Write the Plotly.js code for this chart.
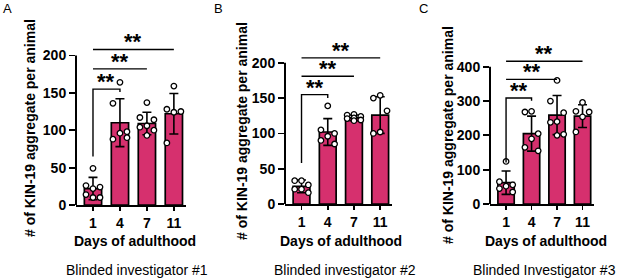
<!DOCTYPE html>
<html>
<head>
<meta charset="utf-8">
<script src="https://cdn.plot.ly/plotly-3.0.1.min.js"></script>
<style>html,body{margin:0;padding:0;background:#fff;}#chart{width:617px;height:280px;}</style>
</head>
<body>
<div id="chart"></div>
<script>
// ---- data ----
const days = ['1', '4', '7', '11'];

const meansA = [22, 110, 109, 122];
const sdA = [15, 32, 15, 27];
const ptsA = [
  [49, 26, 24, 22, 14, 10, 10],
  [164, 136, 98, 96, 88, 90],
  [137, 117, 114, 106, 104, 100, 93],
  [159, 128, 125, 124, 83]
];

const meansB = [25, 102, 122, 126];
const sdB = [9, 19, 4, 26];
const ptsB = [
  [33, 33, 27, 21, 21, 16],
  [139, 105, 100, 96, 90, 85],
  [127, 126, 124, 122, 121, 119, 118],
  [154, 150, 132, 102, 100]
];

const meansC = [62, 205, 259, 256];
const sdC = [34, 51, 57, 33];
const ptsC = [
  [124, 65, 56, 52, 45, 35],
  [270, 268, 205, 190, 165, 155],
  [360, 300, 266, 240, 238, 203, 200],
  [296, 270, 268, 254, 210]
];

// significance bars: level of bracket vs day 4, line vs day 7, line vs day 11
const sigA = [155, 182, 208];
const sigB = [155, 181, 207];
const sigC = [309, 363, 416];
// leg bottoms of the lowest bracket (left leg, right leg)
const legA = [65, 151];
const legB = [58, 150];
const legC = [121, 301];
const sigText = '**';

const yTicksA = [0, 50, 100, 150, 200];
const yTicksB = [0, 50, 100, 150, 200];
const yTicksC = [0, 100, 200, 300, 400];

const yTitle = '# of KIN-19 aggregate per animal';
const xTitle = 'Days of adulthood';
const captions = ['Blinded investigator #1', 'Blinded investigator #2', 'Blinded Investigator #3'];
const letters = ['A', 'B', 'C'];

// ---- layout geometry (px) ----
const W = 617, H = 280;
const FONT = 'Liberation Sans, Arial, sans-serif';
const PINK = '#d6306e';
const panels = [
  {means: meansA, sd: sdA, pts: ptsA, sig: sigA, leg: legA, ticks: yTicksA,
   x0: 76, x1: 186, yb: 205, yt: 30, ymax: 234, titleX: 30, titleY: 128, xtX: 135, capX: 137, letX: 7, letY: 8},
  {means: meansB, sd: sdB, pts: ptsB, sig: sigB, leg: legB, ticks: yTicksB,
   x0: 285, x1: 392, yb: 204, yt: 30, ymax: 246.5, titleX: 242, titleY: 131, xtX: 341, capX: 345, letX: 218, letY: 8},
  {means: meansC, sd: sdC, pts: ptsC, sig: sigC, leg: legC, ticks: yTicksC,
   x0: 490, x1: 594, yb: 204, yt: 30, ymax: 507, titleX: 448, titleY: 135, xtX: 546, capX: 544, letX: 423, letY: 8}
];
const XR = [-0.63, 3.45];
const jitterPattern = [0, -0.26, 0.26];

const traces = [];
const layout = {
  width: W, height: H,
  margin: {l: 0, r: 0, t: 0, b: 0},
  paper_bgcolor: '#fff', plot_bgcolor: 'rgba(0,0,0,0)',
  showlegend: false,
  font: {family: FONT, color: '#000'},
  shapes: [], annotations: []
};

panels.forEach((p, i) => {
  const n = i === 0 ? '' : String(i + 1);
  const xa = 'x' + n, ya = 'y' + n;
  const xpos = days.map((d, k) => k);
  traces.push({
    type: 'bar', x: xpos, y: p.means, xaxis: xa, yaxis: ya, width: 0.64,
    marker: {color: PINK, line: {color: '#000', width: 1.7}},
    error_y: {type: 'data', array: p.sd, visible: true, color: '#000', thickness: 1.6, width: 4.5},
    hoverinfo: 'skip'
  });
  const px = [], py = [];
  p.pts.forEach((arr, k) => {
    arr.forEach((v, j) => {
      px.push(k + jitterPattern[j % jitterPattern.length]);
      py.push(v);
    });
  });
  traces.push({
    type: 'scatter', mode: 'markers', x: px, y: py, xaxis: xa, yaxis: ya,
    marker: {size: 5.5, color: '#fff', line: {color: '#000', width: 1.3}},
    cliponaxis: false, hoverinfo: 'skip'
  });
  layout['xaxis' + n] = {
    domain: [p.x0 / W, p.x1 / W], anchor: ya, range: XR,
    tickvals: xpos, ticktext: days, ticks: 'outside', ticklen: 4, tickwidth: 1.8, tickcolor: '#000',
    showline: true, linewidth: 2, linecolor: '#000', showgrid: false, zeroline: false,
    tickfont: {family: FONT, size: 14, color: '#000', weight: 'bold'}, fixedrange: true
  };
  layout['yaxis' + n] = {
    domain: [1 - p.yb / H, 1 - p.yt / H], anchor: xa, range: [0, p.ymax],
    tickvals: p.ticks, ticktext: p.ticks.map(String), ticks: 'outside', ticklen: 6, tickwidth: 1.8, tickcolor: '#000',
    showline: false, showgrid: false, zeroline: false,
    tickfont: {family: FONT, size: 14, color: '#000', weight: 'bold'}, fixedrange: true
  };
  // y axis line only up to top tick
  layout.shapes.push({type: 'line', xref: xa + ' domain', yref: ya, x0: 0, x1: 0,
    y0: 0, y1: p.ticks[p.ticks.length - 1], line: {color: '#000', width: 2}});
  // significance bracket (vs day 4)
  layout.shapes.push({type: 'path', xref: xa, yref: ya,
    path: `M 0 ${p.leg[0]} L 0 ${p.sig[0]} L 1 ${p.sig[0]} L 1 ${p.leg[1]}`,
    line: {color: '#000', width: 1.4}});
  // lines vs day 7 and day 11
  [1, 2].forEach(k => {
    layout.shapes.push({type: 'line', xref: xa, yref: ya, x0: 0, x1: k + 1,
      y0: p.sig[k], y1: p.sig[k], line: {color: '#000', width: 1.4}});
  });
  [0, 1, 2].forEach(k => {
    layout.annotations.push({xref: xa, yref: ya, x: (k + 1) / 2, y: p.sig[k],
      text: sigText, showarrow: false, xanchor: 'center', yanchor: 'bottom', yshift: -7,
      font: {family: FONT, size: 22, color: '#000', weight: 'bold'}});
  });
  // axis titles and captions
  layout.annotations.push({xref: 'paper', yref: 'paper', x: p.titleX / W, y: 1 - p.titleY / H,
    text: yTitle, textangle: -90, showarrow: false, xanchor: 'center', yanchor: 'middle',
    font: {family: FONT, size: 14, color: '#000', weight: 'bold'}});
  layout.annotations.push({xref: 'paper', yref: 'paper', x: p.xtX / W, y: 1 - 241 / H,
    text: xTitle, showarrow: false, xanchor: 'center', yanchor: 'middle',
    font: {family: FONT, size: 14, color: '#000', weight: 'bold'}});
  layout.annotations.push({xref: 'paper', yref: 'paper', x: p.capX / W, y: 1 - 270 / H,
    text: captions[i], showarrow: false, xanchor: 'center', yanchor: 'middle',
    font: {family: FONT, size: 14, color: '#000'}});
  layout.annotations.push({xref: 'paper', yref: 'paper', x: p.letX / W, y: 1 - p.letY / H,
    text: letters[i], showarrow: false, xanchor: 'center', yanchor: 'middle',
    font: {family: FONT, size: 13, color: '#000'}});
});

Plotly.newPlot('chart', traces, layout, {staticPlot: true, displayModeBar: false});
</script>
</body>
</html>
